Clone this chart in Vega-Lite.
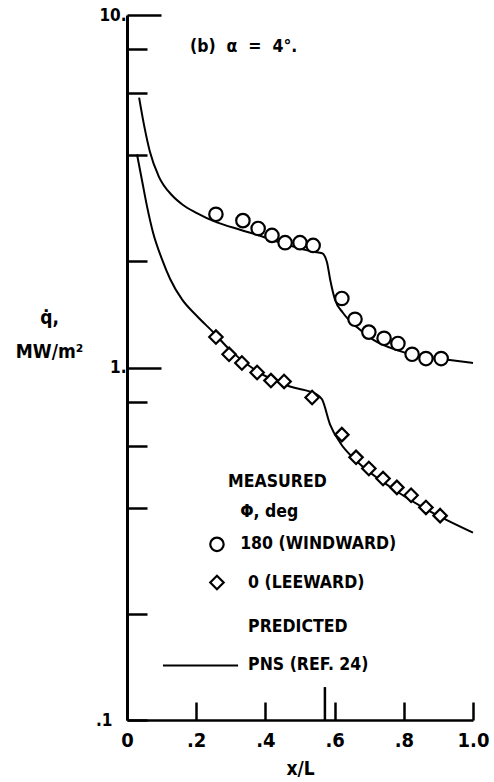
{
  "$schema": "https://vega.github.io/schema/vega-lite/v6.json",
  "width": 346,
  "height": 705,
  "autosize": {"type": "none"},
  "padding": {"left": 127, "top": 15, "right": 21, "bottom": 62},
  "background": "white",
  "config": {
    "view": {"stroke": null},
    "font": "'DejaVu Sans Condensed', 'DejaVu Sans', sans-serif",
    "text": {"font": "'DejaVu Sans Condensed', 'DejaVu Sans', sans-serif", "fontWeight": "bold", "color": "black"}
  },
  "datasets": {
    "points": [
      {"x": 0.257, "q": 2.72, "series": "windward"},
      {"x": 0.335, "q": 2.61, "series": "windward"},
      {"x": 0.379, "q": 2.48, "series": "windward"},
      {"x": 0.419, "q": 2.37, "series": "windward"},
      {"x": 0.457, "q": 2.26, "series": "windward"},
      {"x": 0.5, "q": 2.26, "series": "windward"},
      {"x": 0.538, "q": 2.22, "series": "windward"},
      {"x": 0.621, "q": 1.57, "series": "windward"},
      {"x": 0.659, "q": 1.37, "series": "windward"},
      {"x": 0.699, "q": 1.26, "series": "windward"},
      {"x": 0.743, "q": 1.21, "series": "windward"},
      {"x": 0.783, "q": 1.17, "series": "windward"},
      {"x": 0.824, "q": 1.09, "series": "windward"},
      {"x": 0.864, "q": 1.06, "series": "windward"},
      {"x": 0.908, "q": 1.06, "series": "windward"},
      {"x": 0.257, "q": 1.22, "series": "leeward"},
      {"x": 0.295, "q": 1.09, "series": "leeward"},
      {"x": 0.332, "q": 1.03, "series": "leeward"},
      {"x": 0.376, "q": 0.968, "series": "leeward"},
      {"x": 0.416, "q": 0.918, "series": "leeward"},
      {"x": 0.454, "q": 0.913, "series": "leeward"},
      {"x": 0.535, "q": 0.822, "series": "leeward"},
      {"x": 0.621, "q": 0.645, "series": "leeward"},
      {"x": 0.662, "q": 0.556, "series": "leeward"},
      {"x": 0.699, "q": 0.517, "series": "leeward"},
      {"x": 0.74, "q": 0.484, "series": "leeward"},
      {"x": 0.78, "q": 0.457, "series": "leeward"},
      {"x": 0.821, "q": 0.434, "series": "leeward"},
      {"x": 0.864, "q": 0.401, "series": "leeward"},
      {"x": 0.905, "q": 0.38, "series": "leeward"}
    ],
    "lines": [
      {"x": 0.035, "q": 5.83, "series": "windward"},
      {"x": 0.05, "q": 4.83, "series": "windward"},
      {"x": 0.066, "q": 4.1, "series": "windward"},
      {"x": 0.092, "q": 3.48, "series": "windward"},
      {"x": 0.13, "q": 3.08, "series": "windward"},
      {"x": 0.16, "q": 2.9, "series": "windward"},
      {"x": 0.199, "q": 2.75, "series": "windward"},
      {"x": 0.26, "q": 2.58, "series": "windward"},
      {"x": 0.327, "q": 2.46, "series": "windward"},
      {"x": 0.393, "q": 2.35, "series": "windward"},
      {"x": 0.462, "q": 2.23, "series": "windward"},
      {"x": 0.538, "q": 2.13, "series": "windward"},
      {"x": 0.564, "q": 2.11, "series": "windward"},
      {"x": 0.578, "q": 1.99, "series": "windward"},
      {"x": 0.587, "q": 1.78, "series": "windward"},
      {"x": 0.601, "q": 1.56, "series": "windward"},
      {"x": 0.624, "q": 1.43, "series": "windward"},
      {"x": 0.665, "q": 1.3, "series": "windward"},
      {"x": 0.711, "q": 1.2, "series": "windward"},
      {"x": 0.78, "q": 1.12, "series": "windward"},
      {"x": 0.855, "q": 1.07, "series": "windward"},
      {"x": 0.933, "q": 1.05, "series": "windward"},
      {"x": 1.0, "q": 1.03, "series": "windward"},
      {"x": 0.029, "q": 4.02, "series": "leeward"},
      {"x": 0.043, "q": 3.41, "series": "leeward"},
      {"x": 0.058, "q": 2.86, "series": "leeward"},
      {"x": 0.075, "q": 2.42, "series": "leeward"},
      {"x": 0.101, "q": 2.03, "series": "leeward"},
      {"x": 0.125, "q": 1.78, "series": "leeward"},
      {"x": 0.159, "q": 1.56, "series": "leeward"},
      {"x": 0.202, "q": 1.4, "series": "leeward"},
      {"x": 0.249, "q": 1.26, "series": "leeward"},
      {"x": 0.298, "q": 1.12, "series": "leeward"},
      {"x": 0.376, "q": 0.975, "series": "leeward"},
      {"x": 0.471, "q": 0.883, "series": "leeward"},
      {"x": 0.549, "q": 0.838, "series": "leeward"},
      {"x": 0.564, "q": 0.811, "series": "leeward"},
      {"x": 0.587, "q": 0.689, "series": "leeward"},
      {"x": 0.616, "q": 0.612, "series": "leeward"},
      {"x": 0.665, "q": 0.541, "series": "leeward"},
      {"x": 0.76, "q": 0.459, "series": "leeward"},
      {"x": 0.855, "q": 0.401, "series": "leeward"},
      {"x": 1.0, "q": 0.34, "series": "leeward"}
    ],
    "legendLine": [
      {"x": 0.104, "q": 0.1428},
      {"x": 0.321, "q": 0.1428}
    ],
    "legendSymbols": [
      {"x": 0.26, "q": 0.315, "series": "windward"},
      {"x": 0.26, "q": 0.2455, "series": "leeward"}
    ],
    "texts": [
      {"x": 0.182, "q": 8.09, "label": "(b)\u00a0\u00a0α\u00a0\u00a0=\u00a0\u00a04°."},
      {"x": 0.292, "q": 0.472, "label": "MEASURED"},
      {"x": 0.327, "q": 0.388, "label": "Φ, deg"},
      {"x": 0.327, "q": 0.315, "label": "180 (WINDWARD)"},
      {"x": 0.35, "q": 0.2455, "label": "0 (LEEWARD)"},
      {"x": 0.35, "q": 0.183, "label": "PREDICTED"},
      {"x": 0.35, "q": 0.1428, "label": "PNS (REF. 24)"}
    ],
    "marker": [
      {"x": 0.572, "q": 0.1, "q2": 0.124}
    ]
  },
  "encoding": {
    "x": {
      "field": "x", "type": "quantitative",
      "scale": {"domain": [0, 1], "nice": false, "zero": false},
      "axis": {
        "values": [0, 0.2, 0.4, 0.6, 0.8, 1],
        "labelExpr": "datum.value == 0 ? '0' : datum.value == 1 ? '1.0' : '.' + round(datum.value * 10)",
        "title": "x/L",
        "titleFont": "'DejaVu Sans Condensed', 'DejaVu Sans', sans-serif",
        "titleFontWeight": "bold",
        "titleFontSize": 19,
        "titlePadding": 9,
        "titleColor": "black",
        "grid": false,
        "domainColor": "black",
        "domainWidth": 2.5,
        "tickColor": "black",
        "tickWidth": 2.5,
        "tickSize": -18,
        "labelPadding": 38,
        "labelFont": "'DejaVu Sans Condensed', 'DejaVu Sans', sans-serif",
        "labelFontWeight": "bold",
        "labelFontSize": 20,
        "labelColor": "black",
        "labelFlush": false,
        "labelBaseline": "middle"
      }
    },
    "y": {
      "field": "q", "type": "quantitative",
      "scale": {"type": "log", "domain": [0.1, 10], "nice": false},
      "axis": {
        "values": [0.1, 0.2, 0.4, 0.6, 0.8, 1, 2, 4, 6, 8, 10],
        "labelExpr": "datum.value == 0.1 ? '.1' : datum.value == 1 ? '1.' : datum.value == 10 ? '10.' : ''",
        "title": ["q̇,", "MW/m²"],
        "titleAngle": 0,
        "titleX": -78,
        "titleY": 302,
        "titleAlign": "center",
        "titleBaseline": "middle",
        "titleLineHeight": 34,
        "titleFont": "'DejaVu Sans Condensed', 'DejaVu Sans', sans-serif",
        "titleFontWeight": "bold",
        "titleFontSize": 19,
        "titleColor": "black",
        "grid": false,
        "domainColor": "black",
        "domainWidth": 3,
        "tickColor": "black",
        "tickWidth": 2.5,
        "tickSize": {"condition": {"test": "datum.value == 1 || datum.value == 10", "value": -34}, "value": -20},
        "labelPadding": 35,
        "labelFont": "'DejaVu Sans Condensed', 'DejaVu Sans', sans-serif",
        "labelFontWeight": "bold",
        "labelFontSize": 17,
        "labelColor": "black",
        "labelFlush": false
      }
    }
  },
  "layer": [
    {
      "data": {"name": "lines"},
      "mark": {"type": "line", "color": "black", "strokeWidth": 2, "interpolate": "monotone"},
      "encoding": {"detail": {"field": "series"}, "order": {"field": "x", "type": "quantitative"}}
    },
    {
      "data": {"name": "legendLine"},
      "mark": {"type": "line", "color": "black", "strokeWidth": 2},
      "encoding": {}
    },
    {
      "data": {"name": "marker"},
      "mark": {"type": "rule", "color": "black", "strokeWidth": 2.5},
      "encoding": {"y2": {"field": "q2"}}
    },
    {
      "data": {"name": "points"},
      "mark": {"type": "point", "filled": false, "fill": "white", "fillOpacity": 1, "stroke": "black", "strokeWidth": 2.2, "opacity": 1, "size": 180},
      "encoding": {
        "shape": {"field": "series", "type": "nominal", "scale": {"domain": ["windward", "leeward"], "range": ["circle", "diamond"]}, "legend": null}
      }
    },
    {
      "data": {"name": "legendSymbols"},
      "mark": {"type": "point", "filled": false, "fill": "white", "fillOpacity": 1, "stroke": "black", "strokeWidth": 2.2, "opacity": 1, "size": 180},
      "encoding": {
        "shape": {"field": "series", "type": "nominal", "scale": {"domain": ["windward", "leeward"], "range": ["circle", "diamond"]}, "legend": null}
      }
    },
    {
      "data": {"name": "texts"},
      "mark": {"type": "text", "align": "left", "baseline": "middle", "fontSize": 17.5},
      "encoding": {"text": {"field": "label"}}
    }
  ]
}
